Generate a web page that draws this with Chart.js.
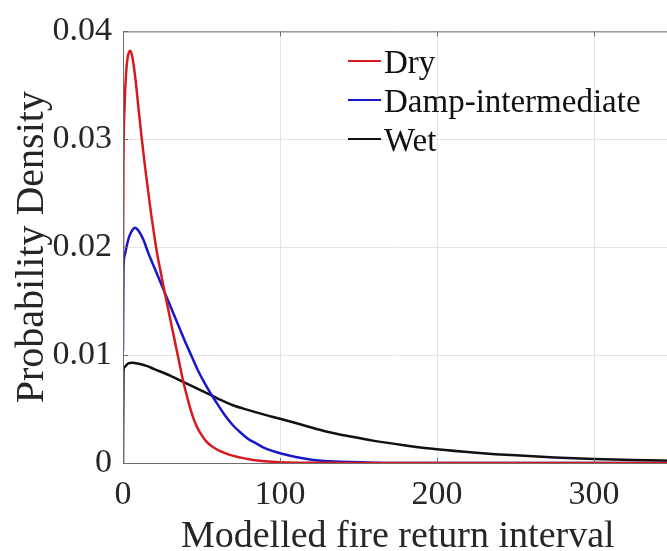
<!DOCTYPE html>
<html lang="en">
  <head>
    <meta charset="UTF-8" />
    <title>Modelled fire return interval</title>
    <script src="https://cdn.jsdelivr.net/npm/chart.js@4.4.1/dist/chart.umd.min.js"></script>
    <style>
      body { margin: 0; background: #fff; }
      #wrap { width: 667px; height: 551px; overflow: hidden; }
    </style>
  </head>
  <body>
    <div id="wrap"><canvas id="pdf-chart" width="680" height="560"></canvas></div>
    <script>
      const seriesNames = ["Dry", "Damp-intermediate", "Wet"];
      const xTicks = [0, 100, 200, 300];
      const yTicks = [0, 0.01, 0.02, 0.03, 0.04];

      const dryX = [0, 0.3, 1, 2, 3, 4.5, 6, 8, 10, 12, 14, 16, 18, 20, 22, 24, 26, 28, 30, 32, 34, 36, 38, 40, 42, 44, 46, 48, 50, 53, 57, 62, 68, 75, 82, 90, 100, 120, 150, 350];
      const dryY = [0.018, 0.028, 0.033, 0.0362, 0.0376, 0.0382, 0.0376, 0.0355, 0.0327, 0.03, 0.0275, 0.0252, 0.023, 0.021, 0.0192, 0.0177, 0.0162, 0.0148, 0.0134, 0.012, 0.0106, 0.0092, 0.0078, 0.0066, 0.0055, 0.0045, 0.0037, 0.0031, 0.0026, 0.002, 0.0015, 0.0011, 0.00075, 0.0005, 0.0003, 0.00017, 0.00008, 0.00002, 0, 0];

      const dampX = [0, 0.3, 1, 2.5, 4, 6, 7.6, 10, 13, 16, 20, 24, 28, 32, 36, 40, 44, 48, 52, 56, 60, 65, 70, 75, 80, 85, 90, 100, 110, 120, 135, 160, 200, 350];
      const dampY = [0.0104, 0.018, 0.0192, 0.0202, 0.021, 0.0216, 0.0218, 0.0215, 0.0207, 0.0195, 0.0181, 0.0167, 0.0153, 0.0139, 0.0125, 0.0111, 0.0098, 0.0085, 0.0074, 0.0064, 0.0055, 0.0044, 0.0035, 0.0028, 0.0022, 0.0018, 0.0014, 0.0009, 0.00055, 0.0003, 0.00013, 0.00003, 0, 0];

      const wetX = [0, 0.3, 1, 3, 6, 10, 15, 20, 30, 40, 50, 60, 70, 80, 90, 100, 115, 130, 145, 160, 180, 200, 225, 250, 275, 300, 325, 350];
      const wetY = [0, 0.0085, 0.0089, 0.0092, 0.0093, 0.0092, 0.009, 0.0087, 0.0081, 0.0074, 0.0067, 0.006, 0.00535, 0.0049, 0.00448, 0.0041, 0.0035, 0.0029, 0.00245, 0.00205, 0.00163, 0.00128, 0.00096, 0.00071, 0.00052, 0.00038, 0.00028, 0.00021];

      const colors = ["#d81a1f", "#1818c8", "#111111"];
      const font = "Liberation Serif, Times New Roman, serif";
      const textColor = "#262626";

      function toPoints(xs, ys) {
        return xs.map((x, i) => ({ x: x, y: ys[i] }));
      }

      // box, inward ticks and in-plot legend, MATLAB style
      const frame = {
        id: "frame",
        afterDatasetsDraw(chart) {
          const { ctx, chartArea: a, scales } = chart;
          ctx.save();
          ctx.strokeStyle = "#6e6e6e";
          ctx.lineWidth = 1;
          ctx.strokeRect(a.left + 0.5, a.top + 0.5, a.right - a.left, a.bottom - a.top);
          ctx.beginPath();
          xTicks.forEach((v) => {
            const px = Math.round(scales.x.getPixelForValue(v)) + 0.5;
            ctx.moveTo(px, a.bottom); ctx.lineTo(px, a.bottom - 5);
            ctx.moveTo(px, a.top); ctx.lineTo(px, a.top + 5);
          });
          yTicks.forEach((v) => {
            const py = Math.round(scales.y.getPixelForValue(v)) + 0.5;
            ctx.moveTo(a.left, py); ctx.lineTo(a.left + 5, py);
            ctx.moveTo(a.right, py); ctx.lineTo(a.right - 5, py);
          });
          ctx.stroke();

          ctx.font = "33px " + font;
          ctx.textBaseline = "alphabetic";
          ctx.fillStyle = "#111";
          chart.data.datasets.forEach((ds, i) => {
            const y = 61 + i * 39;
            ctx.strokeStyle = ds.borderColor;
            ctx.lineWidth = 2;
            ctx.beginPath();
            ctx.moveTo(348, y); ctx.lineTo(381, y);
            ctx.stroke();
            ctx.fillText(ds.label, 384, y + 12);
          });
          ctx.restore();
        },
      };

      new Chart(document.getElementById("pdf-chart"), {
        type: "line",
        data: {
          datasets: [
            { label: seriesNames[0], data: toPoints(dryX, dryY), borderColor: colors[0] },
            { label: seriesNames[1], data: toPoints(dampX, dampY), borderColor: colors[1] },
            { label: seriesNames[2], data: toPoints(wetX, wetY), borderColor: colors[2] },
          ],
        },
        options: {
          responsive: false,
          animation: false,
          devicePixelRatio: 1,
          layout: { padding: { left: 0, right: 7.5, top: 28, bottom: 0 } },
          elements: {
            point: { radius: 0 },
            line: { borderWidth: 2.5, cubicInterpolationMode: "monotone", fill: false },
          },
          plugins: { legend: { display: false }, tooltip: { enabled: false } },
          scales: {
            x: {
              type: "linear",
              min: 0,
              max: 350,
              afterFit: (s) => { s.height = 97; },
              ticks: {
                stepSize: 100,
                includeBounds: false,
                padding: 12,
                color: textColor,
                font: { family: font, size: 34 },
                callback: (v) => (xTicks.includes(v) ? String(v) : ""),
              },
              grid: { color: "#e4e4e4", drawTicks: false },
              border: { display: false },
              title: {
                display: true,
                text: "Modelled fire return interval",
                color: textColor,
                font: { family: font, size: 38 },
                padding: { top: 0, bottom: 0 },
              },
            },
            y: {
              min: 0,
              max: 0.04,
              afterFit: (s) => { s.width = 123; },
              ticks: {
                stepSize: 0.01,
                padding: 11,
                color: textColor,
                font: { family: font, size: 34 },
                callback: (v) => (v === 0 ? "0" : v.toFixed(2)),
              },
              grid: { color: "#e4e4e4", drawTicks: false },
              border: { display: false },
              title: {
                display: true,
                text: "Probability Density",
                color: textColor,
                font: { family: font, size: 40 },
                padding: { top: 8, bottom: 0 },
              },
            },
          },
        },
        plugins: [frame],
      });
    </script>
  </body>
</html>
